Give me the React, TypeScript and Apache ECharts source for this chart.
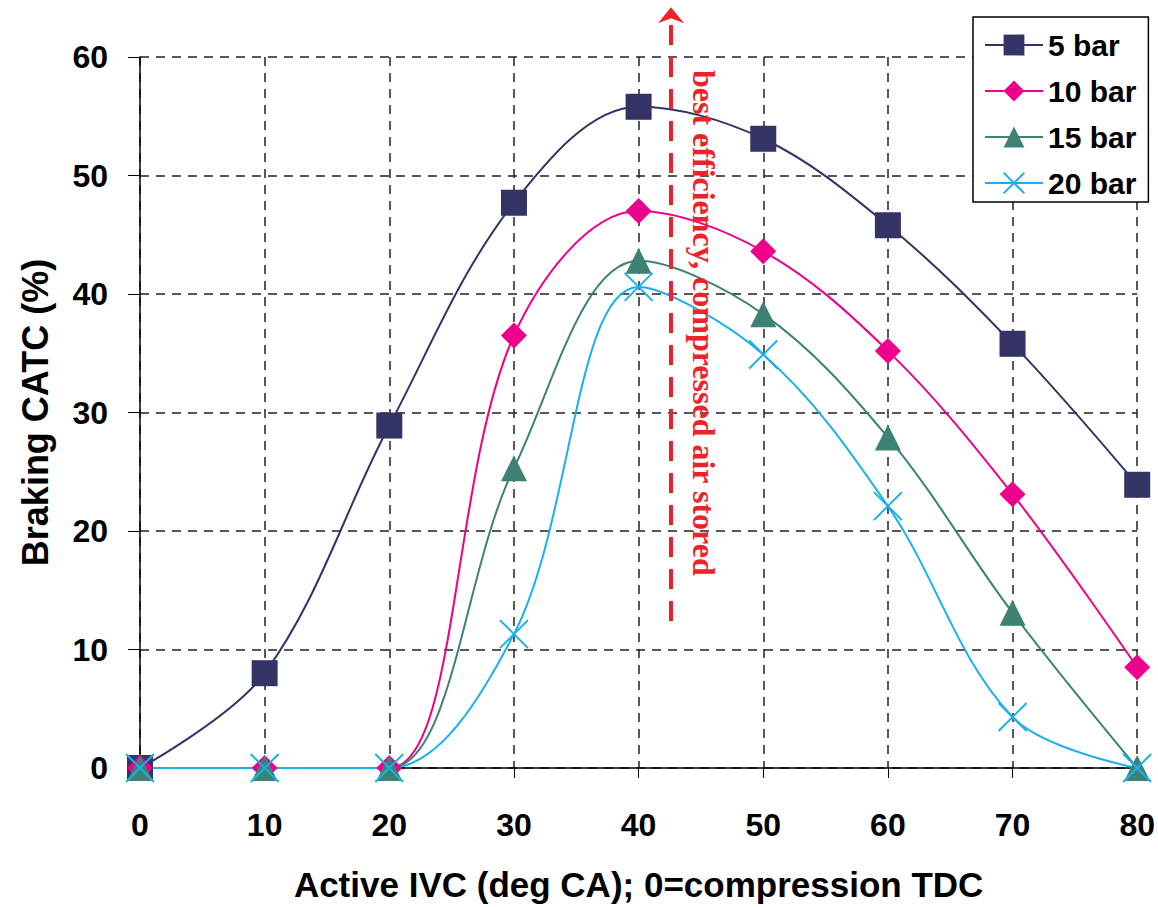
import React, { useEffect, useRef } from "react";
import * as echarts from "echarts";

const xValues = [0, 10, 20, 30, 40, 50, 60, 70, 80];
const bar5 = [0, 8.0, 28.9, 47.7, 55.8, 53.1, 45.8, 35.8, 23.9];
const bar10 = [0, 0, 0, 36.5, 47.0, 43.6, 35.2, 23.1, 8.5];
const bar15 = [0, 0, 0, 25.3, 42.8, 38.3, 27.9, 13.1, 0];
const bar20 = [0, 0, 0, 11.3, 40.6, 34.9, 22.1, 4.3, 0];
const seriesNames = ["5 bar", "10 bar", "15 bar", "20 bar"];
const arrowX = 42.6;
const arrowFromY = 12.4;
const arrowToY = 64.2;
const noteText = "best efficiency, compressed air stored";

const pairs = (ys: number[]) => xValues.map((x, i) => [x, ys[i]]);

export default function App() {
  const ref = useRef<HTMLDivElement>(null);
  useEffect(() => {
    if (!ref.current) return;
    const chart = echarts.init(ref.current, null, { renderer: "svg" });
    const labelFont = { fontFamily: "Liberation Sans, Arial, sans-serif", fontWeight: "bold" as const };
    const mk = (name: string, data: number[], color: string, symbol: string, size: number, extra: any = {}) => ({
      name,
      type: "line",
      data: pairs(data),
      smooth: 0.35,
      symbol,
      symbolSize: size,
      lineStyle: { color, width: 2 },
      itemStyle: { color, borderWidth: 0, ...extra },
      emphasis: { disabled: true },
    });
    chart.setOption({
      animation: false,
      backgroundColor: "#fff",
      grid: { left: 140, right: 18, top: 57, bottom: 138, containLabel: false },
      legend: {
        orient: "vertical",
        left: 973,
        top: 17,
        padding: [13, 12, 4, 11],
        itemWidth: 58,
        itemHeight: 26,
        itemGap: 16,
        borderColor: "#000",
        borderWidth: 1.5,
        backgroundColor: "#fff",
        textStyle: { ...labelFont, fontSize: 30, color: "#000", lineHeight: 30 },
        data: seriesNames,
      },
      xAxis: {
        type: "value",
        min: 0,
        max: 80,
        interval: 10,
        name: "Active IVC (deg CA); 0=compression TDC",
        nameLocation: "middle",
        nameGap: 99,
        nameTextStyle: { ...labelFont, fontSize: 35, color: "#000" },
        axisLine: { lineStyle: { color: "#000", width: 1.5 } },
        axisTick: { show: true, inside: false, length: 10, lineStyle: { color: "#000" } },
        axisLabel: { ...labelFont, fontSize: 32, color: "#000", margin: 41 },
        splitLine: { show: true, lineStyle: { color: "#222", type: [9, 7], width: 1.5 } },
      },
      yAxis: {
        type: "value",
        min: 0,
        max: 60,
        interval: 10,
        name: "Braking CATC (%)",
        nameLocation: "middle",
        nameGap: 87,
        nameTextStyle: { ...labelFont, fontSize: 36, color: "#000" },
        axisLine: { show: true, lineStyle: { color: "#000", width: 1.5 } },
        axisTick: { show: true, length: 12, lineStyle: { color: "#000" } },
        axisLabel: { ...labelFont, fontSize: 32, color: "#000", margin: 32 },
        splitLine: { show: true, lineStyle: { color: "#222", type: [9, 7], width: 1.5 } },
      },
      series: [
        mk(seriesNames[0], bar5, "#333366", "rect", 26),
        mk(seriesNames[1], bar10, "#ec008c", "diamond", 26),
        mk(seriesNames[2], bar15, "#3d8275", "triangle", 26),
        mk(seriesNames[3], bar20, "#1ab0ec", "path://M0,0L10,10M0,10L10,0", 28, {
          borderColor: "#1ab0ec",
          borderWidth: 2,
          color: "none",
        }),
      ],
    });
    const p0 = chart.convertToPixel({ gridIndex: 0 }, [arrowX, arrowFromY]) as number[];
    const p1 = chart.convertToPixel({ gridIndex: 0 }, [arrowX, arrowToY]) as number[];
    const red = "#ee2229";
    chart.setOption({
      graphic: [
        {
          type: "line",
          shape: { x1: p0[0], y1: p0[1], x2: p1[0], y2: p1[1] + 12 },
          style: { stroke: red, lineWidth: 4, lineDash: [20, 12] },
          z: 100,
        },
        {
          type: "polygon",
          shape: {
            points: [
              [p1[0], p1[1]],
              [p1[0] - 13, p1[1] + 16],
              [p1[0], p1[1] + 11],
              [p1[0] + 13, p1[1] + 16],
            ],
          },
          style: { fill: red },
          z: 100,
        },
        {
          type: "text",
          x: p1[0] + 33,
          y: 70,
          rotation: -Math.PI / 2,
          style: {
            text: noteText,
            fill: red,
            font: "bold 32px 'Liberation Serif', 'Times New Roman', serif",
            textAlign: "left",
            textVerticalAlign: "middle",
          },
          z: 100,
        },
      ],
    });
    return () => chart.dispose();
  }, []);
  return <div ref={ref} style={{ width: 1158, height: 907, position: "absolute", left: 0, top: 0 }} />;
}
